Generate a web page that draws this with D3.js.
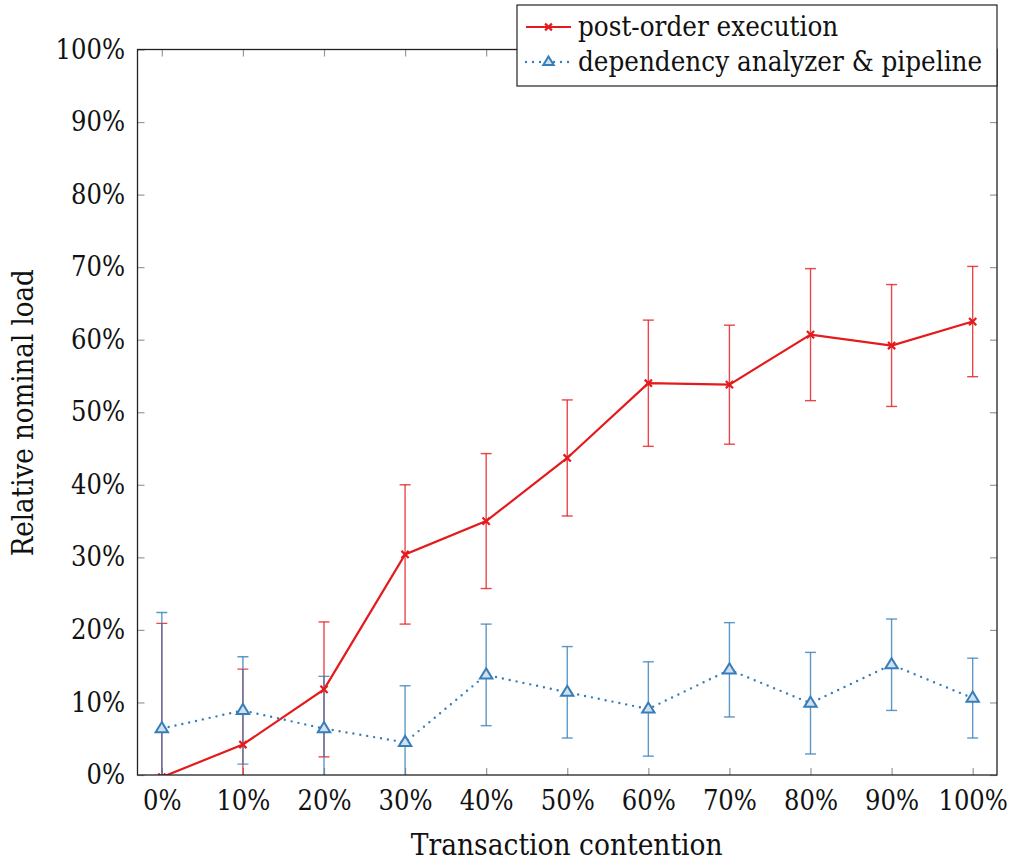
<!DOCTYPE html>
<html>
<head>
<meta charset="utf-8">
<script src="https://cdn.jsdelivr.net/npm/d3@7"></script>
<style>
  body { margin: 0; background: #fff; }
  svg text { font-family: "DejaVu Serif", serif !important; font-stretch: condensed; fill: #111; }
</style>
</head>
<body>
<div id="chart"></div>
<script>
// data (percent)
var contention = [0, 10, 20, 30, 40, 50, 60, 70, 80, 90, 100];
var postOrder = [-0.3, 4.2, 11.8, 30.4, 35.0, 43.7, 54.0, 53.8, 60.7, 59.2, 62.5];
var postOrderErr = [21.2, 10.4, 9.3, 9.6, 9.3, 8.0, 8.7, 8.2, 9.1, 8.4, 7.6];
var pipeline = [6.4, 8.9, 6.4, 4.5, 13.8, 11.4, 9.1, 14.5, 9.9, 15.2, 10.6];
var pipelineErr = [16.0, 7.4, 7.2, 7.8, 7.0, 6.3, 6.5, 6.5, 7.0, 6.3, 5.5];
var xTicks = [0, 10, 20, 30, 40, 50, 60, 70, 80, 90, 100];
var yTicks = [0, 10, 20, 30, 40, 50, 60, 70, 80, 90, 100];
var seriesNames = ["post-order execution", "dependency analyzer & pipeline"];

var red = "#e41a1c", blue = "#377eb8";

var width = 1013, height = 861;
var plot = { left: 137.5, right: 997, top: 49.5, bottom: 775 };
var fontSize = "27px";

var svg = d3.select("#chart")
            .append("svg")
            .attr("width", width)
            .attr("height", height);

var x = d3.scaleLinear().domain([-3, 103]).range([plot.left, plot.right]);
var y = d3.scaleLinear().domain([0, 100]).range([plot.bottom, plot.top]);
var pct = function(d) { return d + "%"; };

svg.append("clipPath").attr("id", "clip")
   .append("rect")
   .attr("x", plot.left).attr("y", plot.top)
   .attr("width", plot.right - plot.left).attr("height", plot.bottom - plot.top);

// axes: labelled bottom/left, bare ticks on top/right
var axes = [
  { g: d3.axisBottom(x).tickValues(xTicks).tickFormat(pct).tickSizeInner(-7).tickSizeOuter(0).tickPadding(16), t: "translate(0," + plot.bottom + ")" },
  { g: d3.axisLeft(y).tickValues(yTicks).tickFormat(pct).tickSizeInner(-7).tickSizeOuter(0).tickPadding(12.5), t: "translate(" + plot.left + ",0)" },
  { g: d3.axisTop(x).tickValues(xTicks).tickFormat("").tickSizeInner(-7).tickSizeOuter(0), t: "translate(0," + plot.top + ")" },
  { g: d3.axisRight(y).tickValues(yTicks).tickFormat("").tickSizeInner(-7).tickSizeOuter(0), t: "translate(" + plot.right + ",0)" }
];
axes.forEach(function(a) {
  var g = svg.append("g").attr("transform", a.t).call(a.g);
  g.attr("font-family", null);
  g.select(".domain").remove();
  g.selectAll(".tick line").attr("stroke", "#999").attr("stroke-width", 1.2);
  g.selectAll(".tick text")
   .style("font-size", fontSize)
   .attr("fill", "#111");
});

var data = contention.map(function(c, i) {
  return { c: c, a: postOrder[i], ae: postOrderErr[i], b: pipeline[i], be: pipelineErr[i] };
});

var layer = svg.append("g").attr("clip-path", "url(#clip)");

// error bars
var drawErr = function(key, errKey, color) {
  var eb = layer.append("g").attr("stroke", color).attr("stroke-width", 1.4).attr("stroke-opacity", 0.8);
  data.forEach(function(d) {
    var cx = x(d.c), hi = y(d[key] + d[errKey]), lo = y(d[key] - d[errKey]);
    eb.append("line").attr("x1", cx).attr("x2", cx).attr("y1", hi).attr("y2", lo);
    eb.append("line").attr("x1", cx - 5.5).attr("x2", cx + 5.5).attr("y1", hi).attr("y2", hi);
    eb.append("line").attr("x1", cx - 5.5).attr("x2", cx + 5.5).attr("y1", lo).attr("y2", lo);
  });
};
drawErr("a", "ae", red);
drawErr("b", "be", blue);

// lines
layer.append("path")
     .datum(data)
     .attr("fill", "none")
     .attr("stroke", red)
     .attr("stroke-width", 2.2)
     .attr("d", d3.line().x(function(d) { return x(d.c); }).y(function(d) { return y(d.a); }));

layer.append("path")
     .datum(data)
     .attr("fill", "none")
     .attr("stroke", blue)
     .attr("stroke-width", 2.4)
     .attr("stroke-linecap", "round")
     .attr("stroke-dasharray", "0 7")
     .attr("d", d3.line().x(function(d) { return x(d.c); }).y(function(d) { return y(d.b); }));

// markers
var cross = function(g, cx, cy, s) {
  g.append("path")
   .attr("d", "M" + (cx - s) + "," + (cy - s) + "L" + (cx + s) + "," + (cy + s) +
              "M" + (cx - s) + "," + (cy + s) + "L" + (cx + s) + "," + (cy - s))
   .attr("stroke", red).attr("stroke-width", 2.2).attr("fill", "none");
};
var tri = function(g, cx, cy, s) {
  g.append("path")
   .attr("d", "M" + cx + "," + (cy - s) + "L" + (cx + s * 0.95) + "," + (cy + s * 0.55) +
              "L" + (cx - s * 0.95) + "," + (cy + s * 0.55) + "Z")
   .attr("stroke", blue).attr("stroke-width", 2).attr("fill", "#cfe0f0");
};
data.forEach(function(d) {
  cross(layer, x(d.c), y(d.a), 3.6);
  tri(layer, x(d.c), y(d.b), 6.5);
});

// frame
svg.append("rect")
   .attr("x", plot.left).attr("y", plot.top)
   .attr("width", plot.right - plot.left).attr("height", plot.bottom - plot.top)
   .attr("fill", "none").attr("stroke", "#222").attr("stroke-width", 1.3);

// axis titles
svg.append("text")
   .attr("x", (plot.left + plot.right) / 2 - 0.5)
   .attr("y", 855)
   .attr("text-anchor", "middle")
   .style("font-size", "29.5px")
   .text("Transaction contention");

svg.append("text")
   .attr("transform", "translate(33," + ((plot.top + plot.bottom) / 2 + 0.5) + ") rotate(-90)")
   .attr("text-anchor", "middle")
   .style("font-size", "29px")
   .text("Relative nominal load");

// legend
var lg = svg.append("g");
lg.append("rect")
  .attr("x", 517).attr("y", 5).attr("width", 480).attr("height", 81)
  .attr("fill", "#fff").attr("stroke", "#222").attr("stroke-width", 1.2);

var rowY = [27, 62];
lg.append("line").attr("x1", 526).attr("x2", 571).attr("y1", rowY[0]).attr("y2", rowY[0])
  .attr("stroke", red).attr("stroke-width", 2.2);
cross(lg, 548.5, rowY[0], 3.4);
lg.append("line").attr("x1", 526).attr("x2", 571).attr("y1", rowY[1]).attr("y2", rowY[1])
  .attr("stroke", blue).attr("stroke-width", 2.4).attr("stroke-linecap", "round").attr("stroke-dasharray", "0 7");
tri(lg, 548.5, rowY[1], 5.5);

seriesNames.forEach(function(n, i) {
  var t = lg.append("text")
    .attr("x", 578)
    .attr("y", rowY[i] + 8.5)
    .style("font-size", "27.5px")
    .text(n);
  // keep the entry inside the box whatever font is picked
  var room = 987 - 578;
  if (t.node().getComputedTextLength() > room) {
    t.attr("textLength", room).attr("lengthAdjust", "spacingAndGlyphs");
  }
});
</script>
</body>
</html>
